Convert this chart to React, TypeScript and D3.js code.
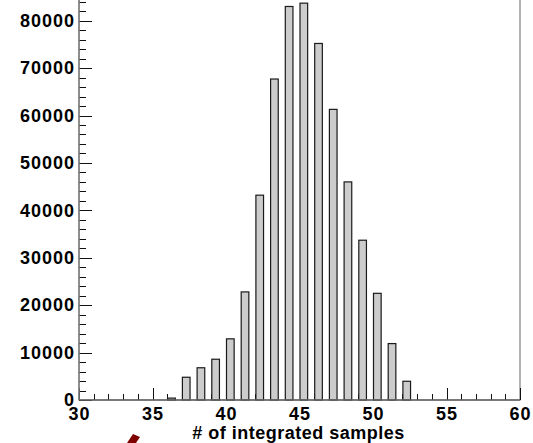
import React, { useEffect, useRef } from "react";
import * as d3 from "d3";

// bin start (integer # of samples) and counts
const bins = [36, 37, 38, 39, 40, 41, 42, 43, 44, 45, 46, 47, 48, 49, 50, 51, 52];
const counts = [400, 4800, 6800, 8600, 12900, 22800, 43200, 67700, 83000, 83700, 75200, 61300, 46000, 33700, 22500, 11900, 3950];
const yTicks = [0, 10000, 20000, 30000, 40000, 50000, 60000, 70000, 80000];
const xTicks = [30, 35, 40, 45, 50, 55, 60];
const xTitle = "# of integrated samples";

function App() {
  const svgRef = useRef<SVGSVGElement>(null);

  useEffect(() => {
    const w = 533;
    const h = 443;
    const font = "'Liberation Sans', Arial, Helvetica, sans-serif";

    d3.select(svgRef.current).selectAll("*").remove();
    const svg = d3
      .select(svgRef.current)
      .attr("width", w)
      .attr("height", h)
      .style("position", "absolute")
      .style("left", 0)
      .style("top", 0)
      .style("background", "#fff");

    const x = d3.scaleLinear().domain([30, 60]).range([79, 520]);
    const y = d3.scaleLinear().domain([0, 85000]).range([400, -3]);

    // frame
    svg
      .append("rect")
      .attr("x", x(30))
      .attr("y", -20)
      .attr("width", x(60) - x(30))
      .attr("height", y(0) + 20)
      .attr("fill", "none")
      .attr("stroke", "#808080")
      .attr("stroke-width", 1.2);

    // y ticks (major + minor)
    const yMinor = d3.range(0, 86000, 2000);
    svg
      .append("g")
      .selectAll("line")
      .data(yMinor)
      .join("line")
      .attr("x1", x(30))
      .attr("x2", (d) => x(30) + (d % 10000 === 0 ? 13 : 7))
      .attr("y1", (d) => Math.round(y(d)) + 0.5)
      .attr("y2", (d) => Math.round(y(d)) + 0.5)
      .attr("stroke", "#111")
      .attr("stroke-width", 1);

    // x ticks
    const xMinor = d3.range(30, 61, 1);
    svg
      .append("g")
      .selectAll("line")
      .data(xMinor)
      .join("line")
      .attr("x1", (d) => Math.round(x(d)) + 0.5)
      .attr("x2", (d) => Math.round(x(d)) + 0.5)
      .attr("y1", y(0))
      .attr("y2", (d) => y(0) - (d % 5 === 0 ? 12 : 6))
      .attr("stroke", "#111")
      .attr("stroke-width", 1);

    // bars
    svg
      .append("g")
      .selectAll("rect")
      .data(bins)
      .join("rect")
      .attr("x", (d) => x(d) + 0.5)
      .attr("width", x(0.52) - x(0))
      .attr("y", (d, i) => y(counts[i]))
      .attr("height", (d, i) => y(0) - y(counts[i]))
      .attr("fill", "#cccccc")
      .attr("stroke", "#1a1a1a")
      .attr("stroke-width", 1.2);

    // axis lines on top
    svg
      .append("line")
      .attr("x1", x(30))
      .attr("x2", x(30))
      .attr("y1", -20)
      .attr("y2", y(0))
      .attr("stroke", "#808080")
      .attr("stroke-width", 1.5);
    svg
      .append("line")
      .attr("x1", x(30))
      .attr("x2", x(60))
      .attr("y1", y(0))
      .attr("y2", y(0))
      .attr("stroke", "#666")
      .attr("stroke-width", 1.5);

    // y labels
    svg
      .append("g")
      .selectAll("text")
      .data(yTicks)
      .join("text")
      .attr("x", 75)
      .attr("y", (d) => y(d) + 6.3)
      .attr("text-anchor", "end")
      .attr("font-family", font)
      .attr("font-weight", "bold")
      .attr("font-size", 18)
      .attr("letter-spacing", 1)
      .attr("fill", "#000")
      .text((d) => d);

    // x labels
    svg
      .append("g")
      .selectAll("text")
      .data(xTicks)
      .join("text")
      .attr("x", (d) => x(d) + 0.5)
      .attr("y", 420)
      .attr("text-anchor", "middle")
      .attr("font-family", font)
      .attr("font-weight", "bold")
      .attr("font-size", 18)
      .attr("letter-spacing", 1)
      .attr("fill", "#000")
      .text((d) => d);

    svg
      .append("text")
      .attr("x", (x(30) + x(60)) / 2 - 1)
      .attr("y", 439)
      .attr("text-anchor", "middle")
      .attr("font-family", font)
      .attr("font-weight", "bold")
      .attr("font-size", 18)
      .attr("letter-spacing", 0.5)
      .attr("fill", "#000")
      .text(xTitle);

    // dark red arrow fragment at the bottom edge
    svg
      .append("polygon")
      .attr("points", "133,434 140,437 136,443 127,443")
      .attr("fill", "#800000");
  }, []);

  return <div><svg ref={svgRef}></svg></div>;
}

export default App;
